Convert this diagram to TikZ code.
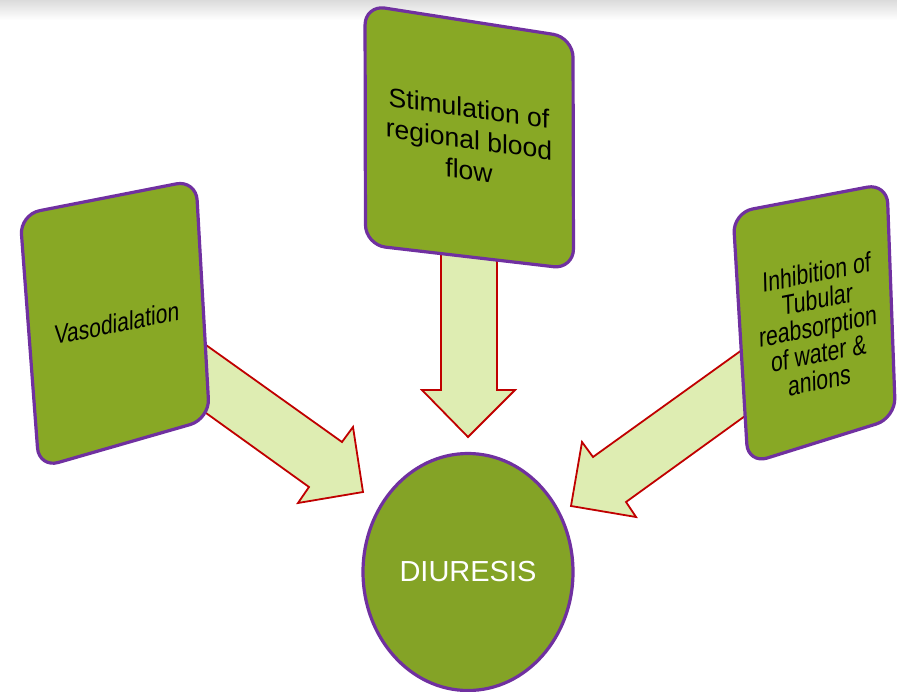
\documentclass[tikz,border=0pt]{standalone}
\usepackage{fontspec}
\setmainfont{Liberation Sans}
\definecolor{boxgreen}{HTML}{88A825}
\definecolor{ellgreen}{HTML}{84A326}
\definecolor{boxpurple}{HTML}{7030A0}
\definecolor{arrfill}{HTML}{DEEDB2}
\definecolor{arrred}{HTML}{C00000}
\tikzset{
  cardbox/.style={fill=boxgreen, draw=boxpurple, line width=3.2pt, rounded corners=20pt, line join=round},
  blockarrow/.style={fill=arrfill, draw=arrred, line width=1.8pt, line join=miter},
  cardtext/.style={align=center, text=black, inner sep=0pt},
}
\begin{document}
\begin{tikzpicture}[x=1pt, y=-1pt]
\useasboundingbox (0,0) rectangle (897,691);
\fill[white] (0,0) rectangle (897,691);
\shade[top color=black!14, bottom color=white] (0,0) rectangle (897,20);

% arrows (behind boxes)
\draw[blockarrow] (190,333.6) -- (342,442) -- (353,427) -- (363,492) -- (298,503) -- (309,487) -- (190,401.5) -- cycle;
\draw[blockarrow] (441,230) -- (441,390) -- (422,390) -- (468,437) -- (515,390) -- (497,390) -- (497,230) -- cycle;
\draw[blockarrow] (760,337) -- (593,457) -- (582,442) -- (571,506) -- (636,517) -- (626,502) -- (763,403) -- cycle;

% boxes
\draw[cardbox] (20,214.5) -- (196,180) -- (209.5,419) -- (39,468) -- cycle;
\draw[cardbox] (365,5) -- (573,37.4) -- (573.5,269) -- (365.5,244.8) -- cycle;
\draw[cardbox] (733,212.7) -- (887,183.4) -- (895.5,418) -- (748,464) -- cycle;

% ellipse
\draw[fill=ellgreen, draw=boxpurple, line width=3.2pt] (468,572) ellipse [x radius=105, y radius=118.5];

% texts
\node[cardtext, yslant=0.2, yscale=1.27, font=\fontsize{21}{24}\selectfont] (vaso) at (117,323) {Vasodialation};
\node[cardtext, yslant=-0.14, font=\fontsize{26.5}{31}\selectfont] (stim) at (469,139) {Stimulation of\\regional blood\\flow};
\node[cardtext, rotate=1.5, yslant=0.17, yscale=1.3, font=\fontsize{21.3}{20.8}\selectfont] (inhib) at (818,326) {Inhibition of\\Tubular\\reabsorption\\of water \&\\anions};
\node[cardtext, text=white, font=\fontsize{29}{32}\selectfont] (diur) at (468,572) {DIURESIS};
\end{tikzpicture}
\end{document}
